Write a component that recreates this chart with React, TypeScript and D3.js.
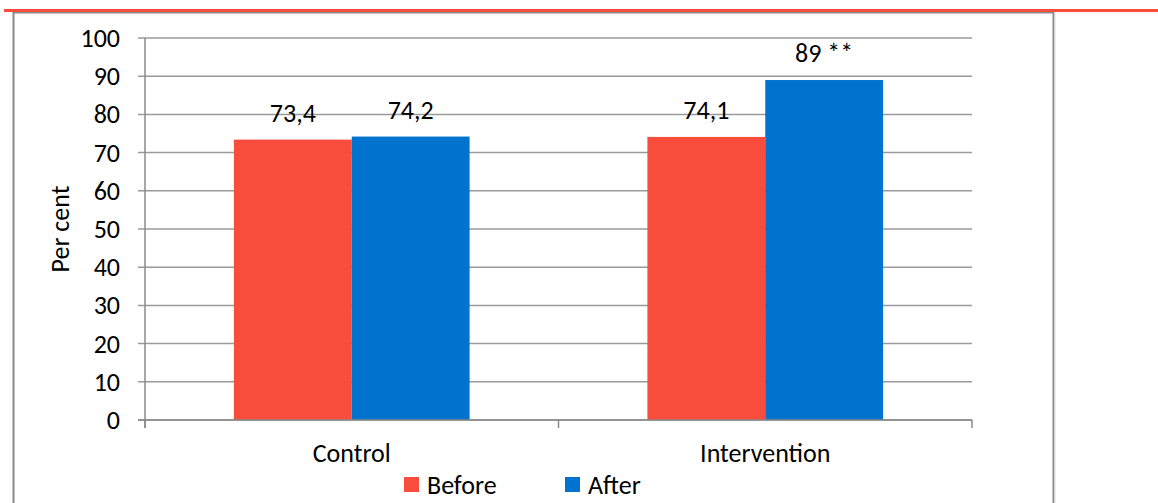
import React from "react";
import * as d3 from "d3";

const categories = ["Control", "Intervention"];
const seriesNames = ["Before", "After"];
const beforeValues = [73.4, 74.1];
const afterValues = [74.2, 89];
const valueLabels = [["73,4", "74,1"], ["74,2", "89 **"]];
const yTicks = [0, 10, 20, 30, 40, 50, 60, 70, 80, 90, 100];
const colors = ["#F84D3C", "#0073CF"];

const W = 1158;
const H = 503;
const plotLeft = 145;
const plotRight = 972;
const plotTop = 38;
const plotBottom = 420;
const font = "Carlito, Calibri, Lato, 'Open Sans', sans-serif";
const fs = 26;

export default function App() {
  const x = d3.scaleBand<string>().domain(categories).range([plotLeft, plotRight]).paddingInner(0.43).paddingOuter(0.215);
  const y = d3.scaleLinear().domain([0, 100]).range([plotBottom, plotTop]);
  const sub = d3.scaleBand<string>().domain(seriesNames).range([0, x.bandwidth()]);
  const series = [beforeValues, afterValues];
  const step = (plotRight - plotLeft) / categories.length;

  return (
    <svg width={W} height={H} style={{ position: "absolute", left: 0, top: 0, background: "#fff" }} fontFamily={font}>
      {/* frame */}
      <line x1={13.5} x2={13.5} y1={12} y2={H} stroke="#8a8a8a" strokeWidth={2} />
      <line x1={13} x2={1054} y1={12.5} y2={12.5} stroke="#8a8a8a" strokeWidth={2} />
      <line x1={1053.5} x2={1053.5} y1={12} y2={H} stroke="#8a8a8a" strokeWidth={2} />
      <line x1={1055} x2={1055} y1={12} y2={H} stroke="#e0e0e0" strokeWidth={1} />
      <rect x={4} y={9} width={W - 4} height={3} fill="#F84D3C" />

      {/* gridlines */}
      {yTicks.map((t) => (
        <g key={t}>
          <line x1={138} x2={plotRight} y1={y(t)} y2={y(t)} stroke="#9a9a9a" strokeWidth={1.5} />
          <text x={120} y={y(t)} textAnchor="end" dominantBaseline="central" fontSize={fs} fill="#000">
            {t}
          </text>
        </g>
      ))}
      {/* y axis */}
      <line x1={plotLeft} x2={plotLeft} y1={plotTop} y2={plotBottom + 8} stroke="#8a8a8a" strokeWidth={1.5} />
      {/* x axis ticks */}
      {d3.range(categories.length + 1).map((i) => (
        <line key={i} x1={plotLeft + i * step} x2={plotLeft + i * step} y1={plotBottom} y2={plotBottom + 8} stroke="#8a8a8a" strokeWidth={1.5} />
      ))}

      {/* bars */}
      {categories.map((c, ci) => (
        <g key={c}>
          {seriesNames.map((s, si) => {
            const v = series[si][ci];
            const bx = (x(c) as number) + (sub(s) as number);
            return (
              <g key={s}>
                <rect x={bx} y={y(v)} width={sub.bandwidth()} height={plotBottom - y(v)} fill={colors[si]} />
                <text x={bx + sub.bandwidth() / 2} y={y(v) - 27} textAnchor="middle" dominantBaseline="central" fontSize={fs} fill="#000">
                  {valueLabels[si][ci]}
                </text>
              </g>
            );
          })}
          <text x={(x(c) as number) + x.bandwidth() / 2} y={453} textAnchor="middle" dominantBaseline="central" fontSize={fs} fill="#000">
            {c}
          </text>
        </g>
      ))}
      <line x1={138} x2={plotRight} y1={plotBottom} y2={plotBottom} stroke="#8a8a8a" strokeWidth={1.5} />

      {/* y label */}
      <text transform={`translate(60, 229) rotate(-90)`} textAnchor="middle" dominantBaseline="central" fontSize={fs} fill="#000">
        Per cent
      </text>

      {/* legend */}
      {seriesNames.map((s, i) => (
        <g key={s} transform={`translate(${404 + i * 161}, 477)`}>
          <rect x={0} y={0} width={15} height={15} fill={colors[i]} />
          <text x={23} y={8} dominantBaseline="central" fontSize={fs} fill="#000">
            {s}
          </text>
        </g>
      ))}
    </svg>
  );
}
